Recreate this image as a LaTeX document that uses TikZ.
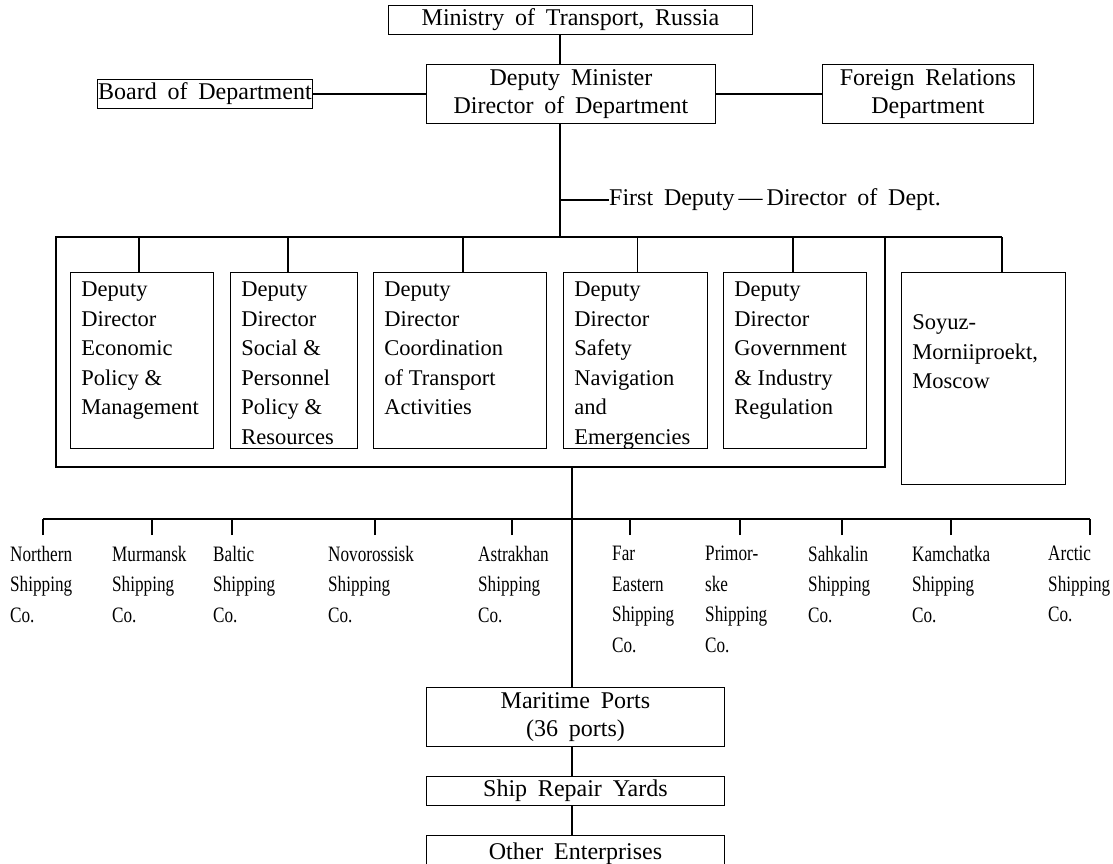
\documentclass[tikz,border=0pt]{standalone}
\usepackage{fontspec}
\setmainfont{Liberation Serif}
\newfontfamily\shipff[FakeStretch=0.78]{Liberation Serif}
\newcommand\topfnt{\fontsize{24}{28}\selectfont\spaceskip=0.45em\relax}
\newcommand\depfnt{\fontsize{22.5}{29.5}\selectfont}
\newcommand\shipfnt{\shipff\fontsize{22}{30.5}\selectfont}
\newcommand\boxtext[4]{\begin{minipage}[c][#2pt][t]{#1pt}\depfnt\raggedright\leftskip=11pt\relax\vspace*{#3pt}#4\end{minipage}}
\tikzset{
  conn/.style={line width=1.7pt, black},
  tbox/.style={draw, line width=0.9pt, inner sep=0pt, anchor=north west, font=\topfnt, align=center},
  dbox/.style={draw, line width=0.9pt, inner sep=0pt, anchor=north west},
  ship/.style={inner sep=0pt, anchor=north west, align=left, font=\shipfnt},
}
\begin{document}
\begin{tikzpicture}[x=1pt,y=-1pt]
\useasboundingbox (0,0) rectangle (1113,864);
% top boxes
\node[tbox, minimum width=364pt, minimum height=29pt] (ministry) at (388,5) {Ministry of Transport, Russia};
\node[tbox, minimum width=289pt, minimum height=59pt] (depmin) at (426,64) {Deputy Minister\\Director of Department};
\node[tbox, minimum width=215pt, minimum height=29pt] (board) at (97,79) {Board of Department};
\node[tbox, minimum width=211pt, minimum height=59pt] (foreign) at (822,64) {Foreign Relations\\Department};
\coordinate (cx) at (560,0);
\coordinate (btop) at (560,237);
\coordinate (fd) at (560,200);
\node[inner sep=0pt, anchor=west, font=\topfnt] (fdtext) at (609,200) {First Deputy\,—\,Director of Dept.};
\draw[conn] (ministry.south -| cx) -- (depmin.north -| cx);
\draw[conn] (board.east) -- (depmin.west);
\draw[conn] (depmin.east) -- (foreign.west);
\draw[conn] (depmin.south -| cx) -- (btop);
\draw[conn] (fd) -- (fdtext.west);
% bracket
\coordinate (bl) at (56,237);
\coordinate (br) at (1002,237);
\coordinate (fr) at (885,237);
\coordinate (fbl) at (56,467);
\coordinate (fbr) at (885,467);
\draw[conn] (br) -- (bl) -- (fbl) -- (fbr) -- (fr);
% deputy boxes
\node[dbox] (d1) at (70,272) {\boxtext{143}{176}{9.5}{Deputy\\Director\\Economic\\Policy \&\\Management}};
\node[dbox] (d2) at (230,272) {\boxtext{127}{176}{9.5}{Deputy\\Director\\Social \&\\Personnel\\Policy \&\\Resources}};
\node[dbox] (d3) at (373,272) {\boxtext{173}{176}{9.5}{Deputy\\Director\\Coordination\\of Transport\\Activities}};
\node[dbox] (d4) at (563,272) {\boxtext{144}{176}{9.5}{Deputy\\Director\\Safety\\Navigation\\and\\Emergencies}};
\node[dbox] (d5) at (723,272) {\boxtext{143}{176}{9.5}{Deputy\\Director\\Government\\\& Industry\\Regulation}};
\node[dbox] (soyuz) at (901,272) {\boxtext{164}{212}{42.5}{Soyuz-\\Morniiproekt,\\Moscow}};
\draw[conn] ([xshift=-3pt]d1.north) -- ([xshift=-3pt]d1.north |- btop);
\draw[conn] ([xshift=-6pt]d2.north) -- ([xshift=-6pt]d2.north |- btop);
\draw[conn] ([xshift=3pt]d3.north) -- ([xshift=3pt]d3.north |- btop);
\draw[conn] ([xshift=2pt]d4.north) -- ([xshift=2pt]d4.north |- btop);
\draw[conn] ([xshift=-2pt]d5.north) -- ([xshift=-2pt]d5.north |- btop);
\draw[conn] (soyuz.north -| br) -- (br);
% shipping companies
\node[ship] (s1) at (10,546) {Northern\\Shipping\\Co.};
\node[ship] (s2) at (112,546) {Murmansk\\Shipping\\Co.};
\node[ship] (s3) at (213,546) {Baltic\\Shipping\\Co.};
\node[ship] (s4) at (328,546) {Novorossisk\\Shipping\\Co.};
\node[ship] (s5) at (478,546) {Astrakhan\\Shipping\\Co.};
\node[ship] (s6) at (612,546) {Far\\Eastern\\Shipping\\Co.};
\node[ship] (s7) at (705,546) {Primor-\\ske\\Shipping\\Co.};
\node[ship] (s8) at (808,546) {Sahkalin\\Shipping\\Co.};
\node[ship] (s9) at (912,546) {Kamchatka\\Shipping\\Co.};
\node[ship] (s10) at (1048,546) {Arctic\\Shipping\\Co.};
\coordinate (bar) at (0,519);
\foreach \n/\x in {1/43,2/152,3/232,4/375,5/512,6/630,7/740,8/842,9/951,10/1090}{
  \coordinate (t\n) at (\x,535);
  \draw[conn] (t\n) -- (t\n |- bar);
}
\draw[conn] (t1 |- bar) -- (t10 |- bar);
% lower chain
\node[tbox, minimum width=298pt, minimum height=59pt] (ports) at (426,687) {Maritime Ports\\(36 ports)};
\node[tbox, minimum width=298pt, minimum height=29pt] (repair) at (426,776) {Ship Repair Yards};
\node[tbox, minimum width=298pt, minimum height=36pt, align=center] (other) at (426,835) {\raisebox{2pt}{Other Enterprises}};
\coordinate (bbot) at (572,467);
\draw[conn] (bbot) -- (ports.north -| bbot);
\draw[conn] (ports.south -| bbot) -- (repair.north -| bbot);
\draw[conn] (repair.south -| bbot) -- (other.north -| bbot);
\end{tikzpicture}
\end{document}
